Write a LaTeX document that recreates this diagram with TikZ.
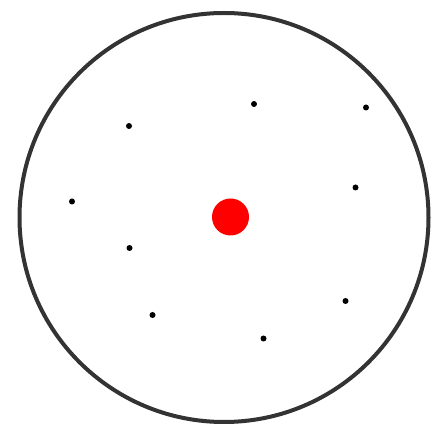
\documentclass[tikz,border=0pt]{standalone}
\begin{document}
\begin{tikzpicture}[x=1pt,y=-1pt,
  dot/.style={circle,fill=black,inner sep=0pt,minimum size=6pt},
  center/.style={circle,fill=red,inner sep=0pt,minimum size=37pt}]
\useasboundingbox (0,0) rectangle (431,427);
\node[circle,draw=black!80,line width=4pt,minimum size=409pt,inner sep=0pt] (ring) at (224,217.5) {};
\node[center] (c) at (230.5,217) {};
\node[dot] (p1) at (129,126) {};
\node[dot] (p2) at (254,104) {};
\node[dot] (p3) at (366,107.5) {};
\node[dot] (p4) at (355.5,187.5) {};
\node[dot] (p5) at (72,201.5) {};
\node[dot] (p6) at (129.5,248) {};
\node[dot] (p7) at (345.5,301) {};
\node[dot] (p8) at (152.5,315) {};
\node[dot] (p9) at (263.5,338.5) {};
\end{tikzpicture}
\end{document}
